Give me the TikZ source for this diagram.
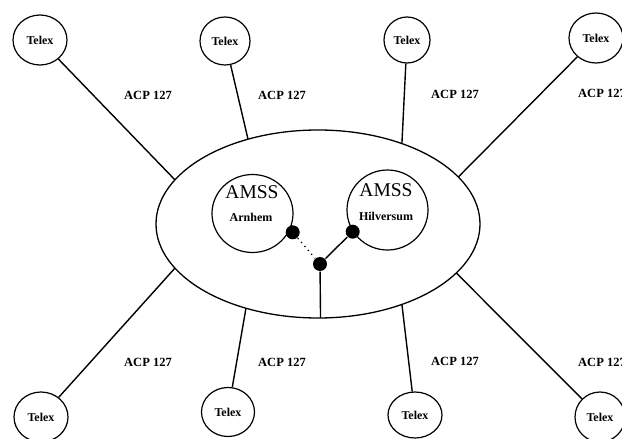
\documentclass[tikz,border=0pt]{standalone}
\usepackage{fontspec}
\setmainfont{Liberation Serif}
\usetikzlibrary{shapes.geometric}
\begin{document}
\begin{tikzpicture}[x=1pt,y=-1pt,
  line width=1.4pt,
  telex/.style={draw, ellipse, inner sep=0pt, minimum width=54pt, minimum height=50pt, line width=1.2pt, font=\fontsize{12}{12}\selectfont\bfseries},
  acp/.style={font=\fontsize{12.5}{12.5}\selectfont\bfseries, inner sep=0pt},
  amss/.style={draw, ellipse, inner sep=0pt, minimum width=81pt, minimum height=78pt, line width=1.2pt},
  amsstext/.style={font=\fontsize{19.5}{19.5}\selectfont, inner sep=0pt},
  sitetext/.style={font=\fontsize{12}{12}\selectfont\bfseries, inner sep=0pt},
  blackdot/.style={circle, fill=black, inner sep=0pt, minimum size=14pt},
]
\clip (0,0) rectangle (622,439);
\fill[white] (0,0) rectangle (622,439);

% central ellipse
\node[draw, ellipse, minimum width=324pt, minimum height=188pt, inner sep=0pt, line width=1.3pt] (hub) at (318,224) {};
\path (hub.center) ++(152:162pt and 94pt) coordinate (e1);
\path (hub.center) ++(115.6:162pt and 94pt) coordinate (e2);
\path (hub.center) ++(58.8:162pt and 94pt) coordinate (e3);
\path (hub.center) ++(30:162pt and 94pt) coordinate (e4);
\path (hub.center) ++(208:162pt and 94pt) coordinate (f1);
\path (hub.center) ++(243.6:162pt and 94pt) coordinate (f2);
\path (hub.center) ++(301.2:162pt and 94pt) coordinate (f3);
\path (hub.center) ++(328.6:162pt and 94pt) coordinate (f4);
\path (hub.center) ++(270.9:162pt and 94pt) coordinate (hb);

% AMSS circles
\node[amss] (arn) at (252.5,213.5) {};
\node[amss, minimum height=80pt] (hil) at (387.5,210) {};
\node[amsstext] (arnA) at (252,192) {AMSS};
\node[sitetext] (arnN) at (251,217) {Arnhem};
\node[amsstext] (hilA) at (386,190) {AMSS};
\node[sitetext] (hilN) at (386,216) {Hilversum};

% dots
\node[blackdot] (da) at (292.7,232.3) {};
\node[blackdot] (dh) at (352.7,231.7) {};
\node[blackdot] (dc) at (320,264) {};
\draw[line width=1.3pt, dash pattern=on 1.2pt off 4pt] (da) -- (dc);
\draw (dh) -- (dc);
\draw (dc) -- (hb);

% Telex nodes
\node[telex] (t1) at (40,40) {Telex};
\node[telex, minimum width=50pt, minimum height=48pt] (t2) at (225,41) {Telex};
\node[telex, minimum width=46pt, minimum height=46pt] (t3) at (407,40) {Telex};
\node[telex] (t4) at (596,38) {Telex};
\node[telex] (b1) at (41,417) {Telex};
\node[telex, minimum width=53pt, minimum height=49pt] (b2) at (228,412) {Telex};
\node[telex, minimum height=46pt] (b3) at (415,415) {Telex};
\node[telex, minimum width=50pt] (b4) at (600,417) {Telex};

% spokes
\draw (t1) -- (e1);
\draw (t2) -- (e2);
\draw (t3) -- (e3);
\draw (t4) -- (e4);
\draw (b1) -- (f1);
\draw (b2) -- (f2);
\draw (b3) -- (f3);
\draw (b4) -- (f4);

% labels
\node[acp] (l1) at (148,95) {ACP 127};
\node[acp] (l2) at (282,95) {ACP 127};
\node[acp] (l3) at (455,94) {ACP 127};
\node[acp] (l4) at (602,93) {ACP 127};
\node[acp] (m1) at (148,362) {ACP 127};
\node[acp] (m2) at (282,362) {ACP 127};
\node[acp] (m3) at (455,361) {ACP 127};
\node[acp] (m4) at (602,362) {ACP 127};
\end{tikzpicture}
\end{document}
